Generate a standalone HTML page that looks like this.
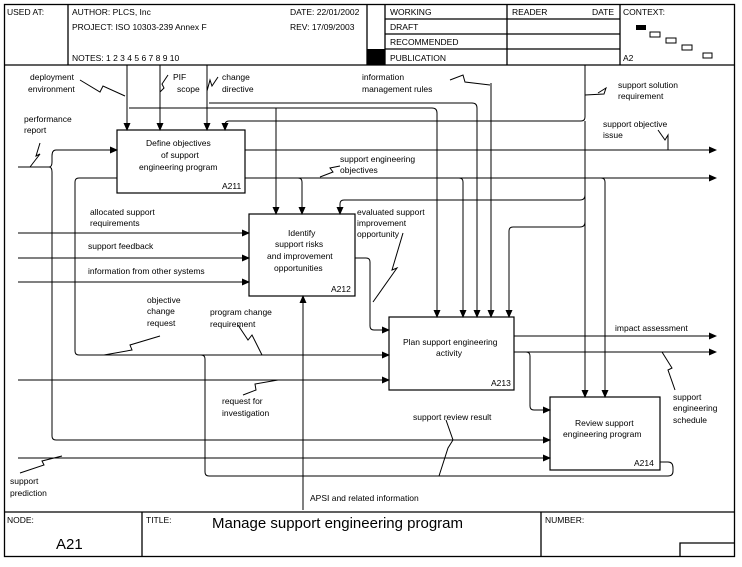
<!DOCTYPE html>
<html><head><style>
body{margin:0;background:#fff;}
svg{display:block;font-family:"Liberation Sans",Arial,sans-serif;}
text{font-size:8.5px;fill:#000;}
</style></head><body>
<svg width="742" height="567" viewBox="0 0 742 567" xmlns="http://www.w3.org/2000/svg">
<defs><marker id="a" markerWidth="8" markerHeight="8" refX="7" refY="3.5" orient="auto" markerUnits="userSpaceOnUse"><path d="M0,0 L8,3.5 L0,7 z" fill="#000"/></marker></defs>
<g stroke="#000" fill="none" stroke-width="1.3">
<rect x="4.5" y="4.5" width="730" height="552"/>
<line x1="4" y1="65" x2="734" y2="65"/>
<line x1="4" y1="512" x2="734" y2="512"/>
<line x1="68" y1="4" x2="68" y2="65"/>
<line x1="367" y1="4" x2="367" y2="65"/>
<line x1="385" y1="4" x2="385" y2="65"/>
<line x1="507" y1="4" x2="507" y2="65"/>
<line x1="620" y1="4" x2="620" y2="65"/>
<line x1="385" y1="19" x2="620" y2="19"/>
<line x1="385" y1="34" x2="620" y2="34"/>
<line x1="385" y1="49" x2="620" y2="49"/>
<line x1="142" y1="512" x2="142" y2="557"/>
<line x1="541" y1="512" x2="541" y2="557"/>
<polyline points="680,557 680,543 734,543"/>
</g>
<rect x="367" y="49" width="18" height="16" fill="#000"/>
<rect x="636" y="25" width="10" height="5" fill="#000"/>
<g stroke="#000" fill="none" stroke-width="1">
<rect x="650" y="32" width="10" height="5"/><rect x="666" y="38" width="10" height="5"/><rect x="682" y="45" width="10" height="5"/><rect x="703" y="53" width="9" height="5"/>
</g>
<text x="7" y="15">USED AT:</text>
<text x="72" y="15">AUTHOR:  PLCS, Inc</text>
<text x="72" y="30">PROJECT:  ISO 10303-239 Annex F</text>
<text x="72" y="61">NOTES:  1  2  3  4  5  6  7  8  9  10</text>
<text x="290" y="15">DATE: 22/01/2002</text>
<text x="290" y="30">REV:   17/09/2003</text>
<text x="390" y="15">WORKING</text>
<text x="390" y="30">DRAFT</text>
<text x="390" y="45">RECOMMENDED</text>
<text x="390" y="61">PUBLICATION</text>
<text x="512" y="15">READER</text>
<text x="592" y="15">DATE</text>
<text x="623" y="15">CONTEXT:</text>
<text x="623" y="61">A2</text>
<text x="7" y="523">NODE:</text>
<text x="146" y="523">TITLE:</text>
<text x="545" y="523">NUMBER:</text>
<text x="56" y="549" style="font-size:15px">A21</text>
<text x="212" y="528" style="font-size:15px">Manage support engineering  program</text>

<g stroke="#000" fill="none" stroke-width="1.2">
<rect x="117" y="130" width="128" height="63"/>
<rect x="249" y="214" width="106" height="82"/>
<rect x="389" y="317" width="125" height="73"/>
<rect x="550" y="397" width="110" height="73"/>
</g>
<g stroke="#000" fill="none" stroke-width="1">
<!-- A211 controls -->
<line x1="127" y1="65" x2="127" y2="130" marker-end="url(#a)"/>
<line x1="160" y1="65" x2="160" y2="130" marker-end="url(#a)"/>
<line x1="207" y1="65" x2="207" y2="130" marker-end="url(#a)"/>
<path d="M585,65 L585,117 Q585,121 581,121 L229,121 Q225,121 225,125 L225,130" marker-end="url(#a)"/>
<path d="M129,108 L432,108 Q437,108 437,113 L437,317" marker-end="url(#a)"/>
<path d="M209,103 L472,103 Q477,103 477,108 L477,317" marker-end="url(#a)"/>
<line x1="491" y1="83" x2="491" y2="317" marker-end="url(#a)"/>
<path d="M276,108 L276,214" marker-end="url(#a)"/>
<path d="M585,121 L585,397" marker-end="url(#a)"/>
<path d="M585,195 Q585,200 580,200 L344,200 Q340,200 340,204 L340,214" marker-end="url(#a)"/>
<path d="M585,222 Q585,227 580,227 L513,227 Q509,227 509,231 L509,317" marker-end="url(#a)"/>
<!-- A211 outputs -->
<line x1="245" y1="150" x2="716" y2="150" marker-end="url(#a)"/>
<line x1="245" y1="178" x2="716" y2="178" marker-end="url(#a)"/>
<path d="M298,178 Q302,178 302,182 L302,214" marker-end="url(#a)"/>
<path d="M459,178 Q463,178 463,182 L463,317" marker-end="url(#a)"/>
<path d="M601,178 Q605,178 605,182 L605,397" marker-end="url(#a)"/>
<!-- performance report -->
<line x1="18" y1="167" x2="50" y2="167"/>
<path d="M56,150 Q52,150 52,156 L52,162 Q52,167 49,167 Q52,167 52,172 L52,436 Q52,440 56,440 L550,440" marker-end="url(#a)"/>
<line x1="56" y1="150" x2="117" y2="150" marker-end="url(#a)"/>
<path d="M117,178 L79,178 Q75,178 75,182 L75,351 Q75,355 79,355 L389,355" marker-end="url(#a)"/>
<!-- A212 inputs -->
<line x1="18" y1="233" x2="249" y2="233" marker-end="url(#a)"/>
<line x1="18" y1="258" x2="249" y2="258" marker-end="url(#a)"/>
<line x1="18" y1="282" x2="249" y2="282" marker-end="url(#a)"/>
<path d="M355,258 L366,258 Q370,258 370,262 L370,326 Q370,330 374,330 L389,330" marker-end="url(#a)"/>
<!-- A213 -->
<line x1="18" y1="380" x2="389" y2="380" marker-end="url(#a)"/>
<line x1="514" y1="336" x2="716" y2="336" marker-end="url(#a)"/>
<line x1="514" y1="352" x2="716" y2="352" marker-end="url(#a)"/>
<path d="M526,352 Q530,352 530,356 L530,406 Q530,410 534,410 L550,410" marker-end="url(#a)"/>
<!-- A214 -->
<line x1="18" y1="458" x2="550" y2="458" marker-end="url(#a)"/>
<path d="M660,462 L668,462 Q673,462 673,468 L673,471 Q673,476 668,476 L209,476 Q205,476 205,472 L205,359 Q205,355 201,355"/>
<line x1="303" y1="510" x2="303" y2="296" marker-end="url(#a)"/>
<!-- squiggles -->
<polyline points="80,80 100,92 103,86 125,96"/>
<polyline points="168,75 162,84 164,88 160,92"/>
<polyline points="218,77 212,86 210,80 207,91"/>
<polyline points="450,80 463,75 465,82 490,85"/>
<polyline points="598,93 606,88 604,94 585,95"/>
<polyline points="40,143 36,156 40,154 30,167"/>
<polyline points="658,130 665,140 668,135 668,150"/>
<polyline points="320,177 333,172 330,168 340,166"/>
<polyline points="403,233 392,270 397,268 373,302"/>
<polyline points="160,336 130,345 132,350 104,355"/>
<polyline points="238,325 248,340 252,335 262,355"/>
<polyline points="243,395 256,390 255,384 278,380"/>
<polyline points="446,420 453,440 448,448 439,476"/>
<polyline points="662,352 672,368 668,370 675,390"/>
<polyline points="20,473 44,465 42,461 62,456"/>
</g>
<g>
<text x="30" y="80">deployment</text><text x="28" y="92">environment</text>
<text x="173" y="80">PIF</text><text x="177" y="92">scope</text>
<text x="222" y="80">change</text><text x="222" y="92">directive</text>
<text x="362" y="80">information</text><text x="362" y="92">management rules</text>
<text x="618" y="88">support solution</text><text x="618" y="99">requirement</text>
<text x="24" y="122">performance</text><text x="24" y="133">report</text>
<text x="603" y="127">support objective</text><text x="603" y="138">issue</text>
<text x="146" y="146">Define objectives</text><text x="161" y="158">of support</text><text x="139" y="170">engineering program</text><text x="222" y="189">A211</text>
<text x="340" y="162">support engineering</text><text x="340" y="173">objectives</text>
<text x="90" y="215">allocated support</text><text x="90" y="226">requirements</text>
<text x="88" y="249">support feedback</text>
<text x="88" y="274">information from other systems</text>
<text x="357" y="215">evaluated support</text><text x="357" y="226">improvement</text><text x="357" y="237">opportunity</text>
<text x="288" y="236">Identify</text><text x="275" y="247">support risks</text><text x="267" y="259">and improvement</text><text x="274" y="271">opportunities</text><text x="331" y="292">A212</text>
<text x="147" y="303">objective</text><text x="147" y="314">change</text><text x="147" y="326">request</text>
<text x="210" y="315">program change</text><text x="210" y="327">requirement</text>
<text x="615" y="331">impact assessment</text>
<text x="403" y="345">Plan support engineering</text><text x="436" y="356">activity</text><text x="491" y="386">A213</text>
<text x="222" y="404">request  for</text><text x="222" y="416">investigation</text>
<text x="413" y="420">support review result</text>
<text x="673" y="400">support</text><text x="673" y="411">engineering</text><text x="673" y="423">schedule</text>
<text x="575" y="426">Review support</text><text x="563" y="437">engineering program</text><text x="634" y="466">A214</text>
<text x="10" y="484">support</text><text x="10" y="496">prediction</text>
<text x="310" y="501">APSI and related information</text>
</g>
</svg>
</body></html>
